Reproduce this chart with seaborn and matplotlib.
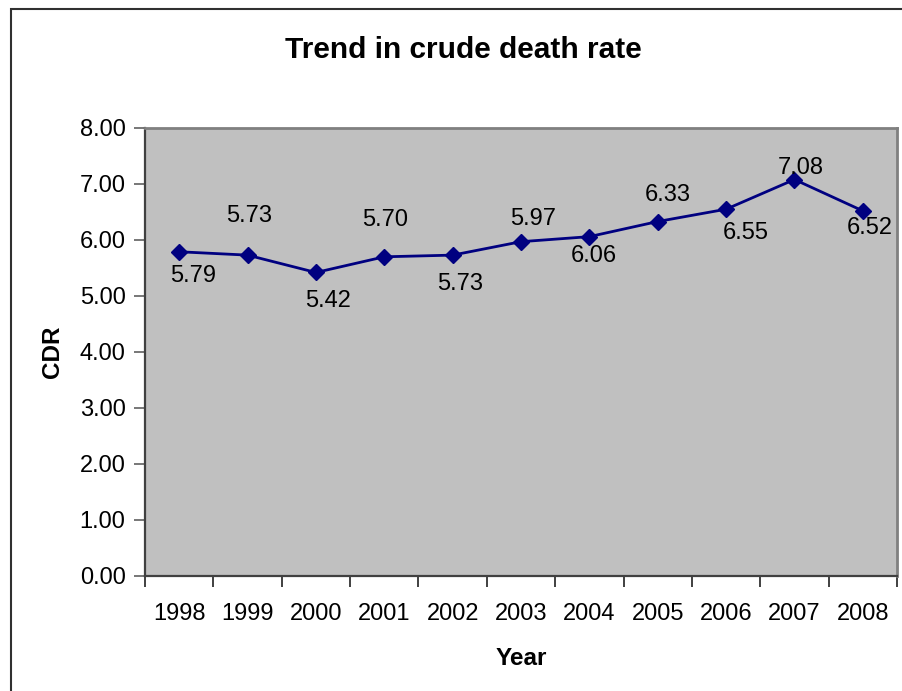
import numpy as np
import matplotlib
matplotlib.use("Agg")
import matplotlib.pyplot as plt
import matplotlib.ticker as mticker
from matplotlib.patches import Rectangle
import seaborn as sns

# ------------------------------------------------------------
# Data
# ------------------------------------------------------------
years = ["1998", "1999", "2000", "2001", "2002", "2003",
         "2004", "2005", "2006", "2007", "2008"]
cdr = [5.79, 5.73, 5.42, 5.70, 5.73, 5.97, 6.06, 6.33, 6.55, 7.08, 6.52]

# label centre offsets from each point, in pixels (dx, dy up)
label_offsets = [(14, -21.5), (2, 41.5), (12, -26), (1, 39), (7, -26),
                 (12, 25), (4, -17), (10, 29.5), (20, -21.5), (6, 14.5),
                 (6.5, -15)]

# ------------------------------------------------------------
# Style
# ------------------------------------------------------------
sns.set_style("white")
plt.rcParams["font.family"] = ["Liberation Sans", "DejaVu Sans"]
plt.rcParams["text.color"] = "black"
plt.rcParams["axes.labelcolor"] = "black"

W, H = 903, 691
fig = plt.figure(figsize=(W / 100, H / 100), dpi=100)
ax = fig.add_axes([145 / W, 1 - 576 / H, (897 - 145) / W, 448 / H])
ax.set_facecolor("#C0C0C0")

sns.pointplot(x=years, y=cdr, ax=ax, color="#000080", markers="D",
              markersize=8.5, markeredgewidth=1, linewidth=2, errorbar=None)

# data labels
for i, (v, (dx, dy)) in enumerate(zip(cdr, label_offsets)):
    ax.annotate(f"{v:.2f}", (i, v), xytext=(dx, dy - 8.5),
                textcoords="offset pixels", ha="center", va="baseline",
                fontsize=17, color="black")

# axes limits / ticks
ax.set_xlim(-0.5, len(years) - 0.5)
ax.set_ylim(0, 8)
ax.set_yticks(np.arange(0, 9, 1))
ax.yaxis.set_major_formatter(mticker.FormatStrFormatter("%.2f"))
ax.set_xticks(range(len(years)))
ax.set_xticklabels(years)
ax.set_xticks(np.arange(-0.5, len(years), 1), minor=True)
ax.tick_params(axis="x", which="major", length=0, pad=19.5, labelsize=17,
               labelcolor="black")
ax.tick_params(axis="x", which="minor", length=8, width=1.2,
               color="#202020", direction="out", bottom=True)
ax.tick_params(axis="y", length=8, width=1.2, color="#606060",
               direction="out", left=True, pad=6, labelsize=17,
               labelcolor="black")
ax.set_xlabel("")
ax.set_ylabel("")
ax.grid(False)

for side in ["left", "bottom"]:
    ax.spines[side].set_color("#404040")
    ax.spines[side].set_linewidth(1.6)
for side in ["top", "right"]:
    ax.spines[side].set_visible(True)
    ax.spines[side].set_color("#808080")
    ax.spines[side].set_linewidth(2)

# titles
fig.text(463 / W, 1 - 58 / H, "Trend in crude death rate", ha="center",
         va="baseline", fontsize=21.5, fontweight="bold", color="black")
fig.text(521.5 / W, 1 - 665 / H, "Year", ha="center", va="baseline",
         fontsize=17.5, fontweight="bold", color="black")
fig.text(53 / W, 1 - 352 / H, "CDR", ha="center", va="center",
         rotation=90, fontsize=17.5, fontweight="bold", color="black")

# outer chart frame
fig.add_artist(Rectangle((11 / W, -0.05), 1.2, 1 - 9 / H + 0.05,
                         transform=fig.transFigure, fill=False,
                         lw=1.5, ec="#303030", clip_on=False))

fig.savefig("out.png", dpi=100)
